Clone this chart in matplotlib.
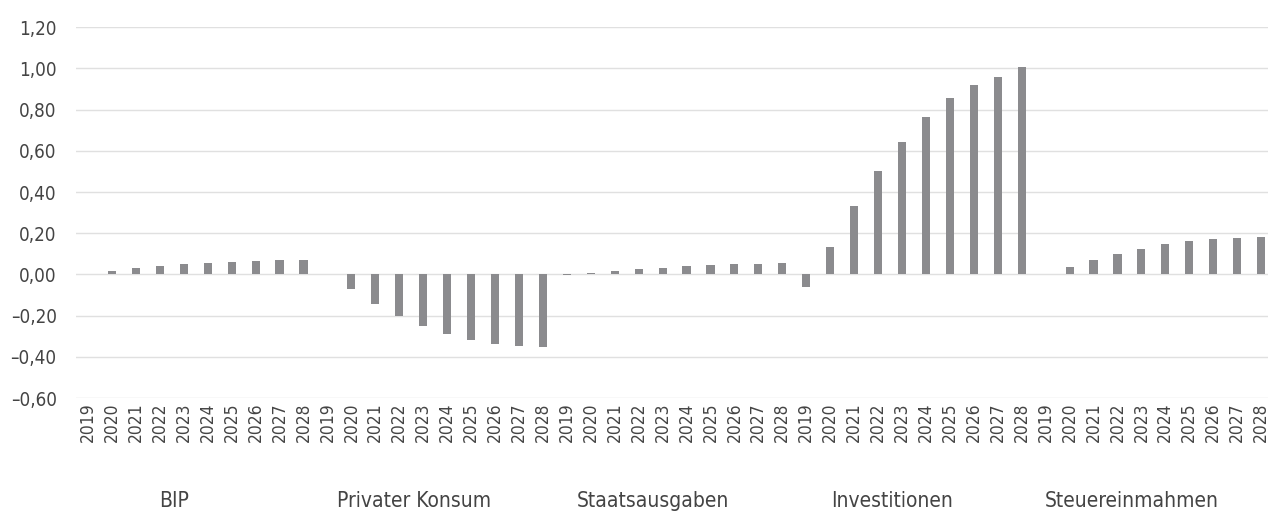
import numpy as np
import matplotlib
matplotlib.use("Agg")
import matplotlib.pyplot as plt
from matplotlib.ticker import FuncFormatter

plt.rcParams['font.family'] = ['DejaVu Sans']
plt.rcParams['font.stretch'] = 'condensed'

years = ['2019', '2020', '2021', '2022', '2023', '2024', '2025', '2026', '2027', '2028']
groups = ['BIP', 'Privater Konsum', 'Staatsausgaben', 'Investitionen', 'Steuereinmahmen']

bip = [0.002, 0.015, 0.030, 0.040, 0.050, 0.055, 0.062, 0.066, 0.068, 0.072]
konsum = [0.0, -0.072, -0.142, -0.200, -0.250, -0.288, -0.316, -0.337, -0.346, -0.353]
staat = [-0.002, 0.005, 0.015, 0.025, 0.033, 0.040, 0.045, 0.050, 0.052, 0.055]
invest = [-0.063, 0.134, 0.332, 0.500, 0.644, 0.764, 0.857, 0.920, 0.959, 1.006]
steuer = [0.0, 0.035, 0.071, 0.100, 0.124, 0.146, 0.162, 0.171, 0.178, 0.184]

values = np.concatenate([bip, konsum, staat, invest, steuer])
labels = years * len(groups)
x = np.arange(len(values))

fig = plt.figure(figsize=(12.68, 5.13), dpi=100)
ax = fig.add_axes([0.06, 0.224, 0.944, 0.723])

ax.bar(x, values, width=0.34, color='#8b8b8e', zorder=3)

ax.set_ylim(-0.6, 1.2)
ax.set_xlim(-0.5, len(values) - 0.5)
ax.set_yticks(np.arange(-0.6, 1.21, 0.2))
ax.yaxis.set_major_formatter(FuncFormatter(lambda v, p: ('%.2f' % v).replace('.', ',').replace('-', '\u2013')))
ax.grid(axis='y', color='#e0e0e0', linewidth=1.0, zorder=0)
for s in ax.spines.values():
    s.set_visible(False)
ax.tick_params(axis='both', length=0, colors='#444444')
ax.tick_params(axis='y', pad=14, labelsize=13.5)
ax.tick_params(axis='x', pad=3, labelsize=12.5)
ax.set_xticks(x)
ax.set_xticklabels(labels, rotation=90)

# group names under the year labels
for i, g in enumerate(groups):
    ax.text(i * len(years) + 4.5 - 0.9, -1.10, g, ha='center', va='center',
            fontsize=15, color='#444444', clip_on=False)

fig.savefig('out.png', dpi=100)
